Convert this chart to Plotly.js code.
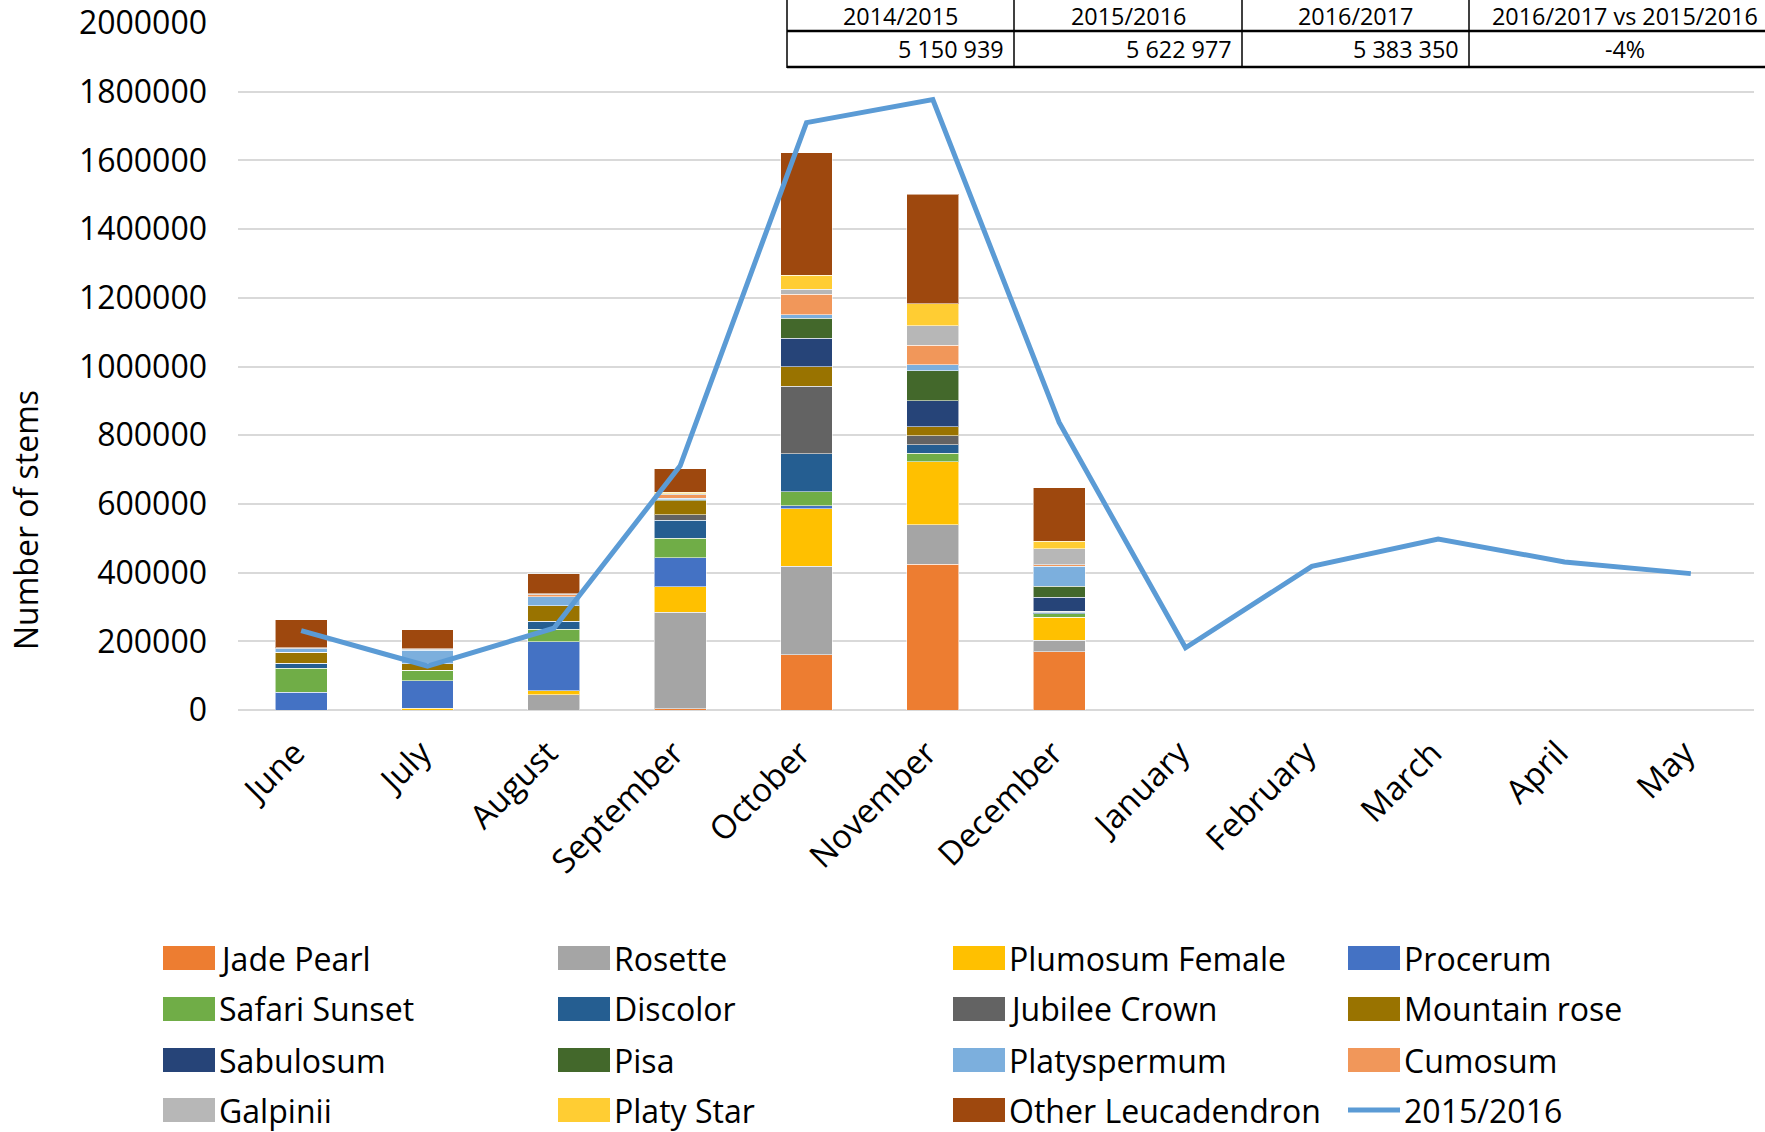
<!DOCTYPE html>
<html><head><meta charset="utf-8">
<script src="https://cdn.plot.ly/plotly-3.0.1.min.js"></script>
<style>html,body{margin:0;padding:0;background:#fff;} #chart{width:1765px;height:1132px;}</style>
</head><body><div id="chart"></div>
<script>
// ---- data ----
const months = ["June","July","August","September","October","November","December","January","February","March","April","May"];
const jadePearl      = [0, 0, 0, 3000, 161000, 424000, 170000, null, null, null, null, null];
const rosette        = [0, 0, 44000, 282000, 257000, 115000, 33000, null, null, null, null, null];
const plumosumFemale = [0, 5000, 12000, 74000, 168000, 184000, 67000, null, null, null, null, null];
const procerum       = [51000, 80000, 143000, 84000, 8000, 0, 0, null, null, null, null, null];
const safariSunset   = [71000, 31000, 36000, 57000, 42000, 24000, 10000, null, null, null, null, null];
const discolor       = [14000, 0, 24000, 53000, 110000, 25000, 5000, null, null, null, null, null];
const jubileeCrown   = [0, 0, 0, 15000, 197000, 26000, 3000, null, null, null, null, null];
const mountainRose   = [32000, 19000, 44000, 41000, 57000, 26000, 0, null, null, null, null, null];
const sabulosum      = [0, 0, 0, 0, 82000, 77000, 40000, null, null, null, null, null];
const pisa           = [0, 0, 0, 3000, 58000, 87000, 32000, null, null, null, null, null];
const platyspermum   = [10000, 39000, 27000, 4000, 10000, 17000, 58000, null, null, null, null, null];
const cumosum        = [0, 2000, 5000, 11000, 61000, 57000, 5000, null, null, null, null, null];
const galpinii       = [3000, 3000, 4000, 3000, 14000, 56000, 47000, null, null, null, null, null];
const platyStar      = [0, 0, 0, 4000, 40000, 65000, 21000, null, null, null, null, null];
const otherLeucadendron = [82000, 54000, 57000, 68000, 358000, 318000, 156000, null, null, null, null, null];
const season2015_2016 = [231000, 128000, 238000, 711000, 1710000, 1777000, 837000, 181000, 418000, 498000, 431000, 397000];

const seriesNames = ["Jade Pearl","Rosette","Plumosum Female","Procerum","Safari Sunset","Discolor","Jubilee Crown","Mountain rose","Sabulosum","Pisa","Platyspermum","Cumosum","Galpinii","Platy Star","Other Leucadendron"];
const seriesValues = [jadePearl, rosette, plumosumFemale, procerum, safariSunset, discolor, jubileeCrown, mountainRose, sabulosum, pisa, platyspermum, cumosum, galpinii, platyStar, otherLeucadendron];
const seriesColors = ["#ED7D31","#A5A5A5","#FFC000","#4472C4","#70AD47","#255E91","#636363","#997300","#264478","#43682B","#7CAFDD","#F1975A","#B7B7B7","#FFCD33","#9E480E"];
const lineName = "2015/2016";
const lineColor = "#5B9BD5";

const tableHeaders = ["2014/2015","2015/2016","2016/2017","2016/2017 vs 2015/2016"];
const tableValues  = ["5 150 939","5 622 977","5 383 350","-4%"];

// ---- font helpers ----
const ctx = document.createElement('canvas').getContext('2d');
function measure(font, txt){ ctx.font = font; return ctx.measureText(txt).width; }
const probe = 'abcdefghijklmnopqrstuvwxyz ABCDEFGHIJ';
const narrowOK = measure('40px "Liberation Sans Narrow", monospace', probe) !== measure('40px monospace', probe);
const narrowFamily = narrowOK ? 'Liberation Sans Narrow' : 'Open Sans';
function fitSize(family, txt, target){ return 100 * target / measure('100px "' + family + '"', txt); }
const legendSize = fitSize(narrowFamily, 'Other Leucadendron', 312);
const tableSize = fitSize(narrowFamily, '2016/2017 vs 2015/2016', 266);

// ---- geometry ----
const W = 1765, H = 1132, ML = 238, MR = 11, MT = 23, MB = 422;
const PW = W - ML - MR, PH = H - MT - MB;
const px = v => (v - ML) / PW;
const py = v => (H - MB - v) / PH;

// ---- traces ----
const traces = seriesNames.map((n, i) => ({
  type: 'bar', name: n, x: months, y: seriesValues[i],
  marker: {color: seriesColors[i], line: {color: 'rgba(255,255,255,0.55)', width: 1}},
  hoverinfo: 'skip'
}));
traces.push({type: 'scatter', mode: 'lines', name: lineName, x: months, y: season2015_2016,
  line: {color: lineColor, width: 5}, hoverinfo: 'skip'});

// ---- custom legend + table ----
const shapes = [], annotations = [];
const colX = [163, 558, 953, 1348], rowY = [958, 1009, 1060, 1110];
const legendItems = seriesNames.map((n, i) => ({name: n, color: seriesColors[i], kind: 'bar'}));
legendItems.push({name: lineName, color: lineColor, kind: 'line'});
legendItems.forEach((it, i) => {
  const cx = colX[i % 4], cy = rowY[Math.floor(i / 4)];
  if (it.kind === 'bar') {
    shapes.push({type: 'rect', xref: 'paper', yref: 'paper', x0: px(cx), x1: px(cx + 52), y0: py(cy - 12), y1: py(cy + 12),
      fillcolor: it.color, line: {width: 0}});
  } else {
    shapes.push({type: 'line', xref: 'paper', yref: 'paper', x0: px(cx), x1: px(cx + 52), y0: py(cy), y1: py(cy),
      line: {color: it.color, width: 5}});
  }
  annotations.push({xref: 'paper', yref: 'paper', x: px(cx + 55), y: py(cy), xanchor: 'left', yanchor: 'middle',
    text: it.name, showarrow: false, borderpad: 0, font: {family: narrowFamily, size: legendSize, color: '#000'}});
});

const colEdges = [787, 1014, 1242, 1469, 1790];
shapes.push({type: 'rect', xref: 'paper', yref: 'paper', x0: px(787), x1: px(1790), y0: py(68), y1: py(-10),
  fillcolor: '#fff', line: {width: 0}, layer: 'above'});
shapes.push({type: 'line', xref: 'paper', yref: 'paper', x0: px(787), x1: px(1790), y0: py(31), y1: py(31), line: {color: '#000', width: 2.5}});
shapes.push({type: 'line', xref: 'paper', yref: 'paper', x0: px(787), x1: px(1790), y0: py(67), y1: py(67), line: {color: '#000', width: 2.5}});
colEdges.slice(0, 4).forEach(e => {
  shapes.push({type: 'line', xref: 'paper', yref: 'paper', x0: px(e), x1: px(e), y0: py(68), y1: py(-10), line: {color: '#000', width: 1.5}});
});
tableHeaders.forEach((h, i) => {
  const c = (colEdges[i] + colEdges[i + 1]) / 2;
  annotations.push({xref: 'paper', yref: 'paper', x: px(i === 3 ? 1625 : c), y: py(16), xanchor: 'center', yanchor: 'middle',
    text: h, showarrow: false, borderpad: 0, font: {family: narrowFamily, size: tableSize, color: '#000'}});
  if (i < 3) {
    annotations.push({xref: 'paper', yref: 'paper', x: px(colEdges[i + 1] - 9), y: py(49), xanchor: 'right', yanchor: 'middle',
      text: tableValues[i], showarrow: false, borderpad: 0, font: {family: narrowFamily, size: tableSize, color: '#000'}});
  } else {
    annotations.push({xref: 'paper', yref: 'paper', x: px(1625), y: py(49), xanchor: 'center', yanchor: 'middle',
      text: tableValues[i], showarrow: false, borderpad: 0, font: {family: narrowFamily, size: tableSize, color: '#000'}});
  }
});

annotations.push({xref: 'paper', yref: 'paper', x: px(25), y: py(520), xanchor: 'center', yanchor: 'middle', textangle: -90,
  text: 'Number of stems', showarrow: false, font: {family: 'Open Sans', size: 32, color: '#000'}});

const layout = {
  width: W, height: H,
  margin: {l: ML, r: MR, t: MT, b: MB, pad: 0},
  paper_bgcolor: '#fff', plot_bgcolor: '#fff',
  barmode: 'stack', bargap: 0.59,
  showlegend: false, hovermode: false,
  font: {family: 'Open Sans', color: '#000'},
  xaxis: {type: 'category', tickangle: -45, showgrid: false, showline: false, zeroline: false,
    tickfont: {family: 'Open Sans', size: 33, color: '#000'}, ticklabelstandoff: 16, ticklabelshift: -6, fixedrange: true},
  yaxis: {range: [0, 2000000], tick0: 0, dtick: 200000, tickformat: 'd',
    gridcolor: '#D9D9D9', gridwidth: 2, zeroline: true, zerolinecolor: '#D9D9D9', zerolinewidth: 2,
    showline: false, tickfont: {family: 'Open Sans', size: 32, color: '#000'}, ticklabelstandoff: 30, fixedrange: true},
  shapes: shapes, annotations: annotations
};
Plotly.newPlot('chart', traces, layout, {staticPlot: true, displayModeBar: false});
</script></body></html>
